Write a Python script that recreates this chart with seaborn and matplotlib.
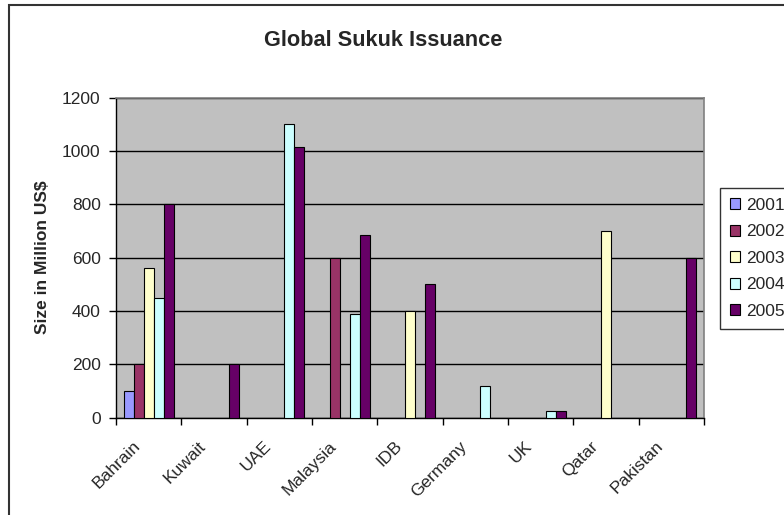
import numpy as np
import pandas as pd
import matplotlib
matplotlib.use("Agg")
import matplotlib.pyplot as plt
import matplotlib.transforms as mtransforms
from matplotlib.patches import Patch, Rectangle
import seaborn as sns

# values (million US$); nan = no issuance shown
countries = ["Bahrain", "Kuwait", "UAE", "Malaysia", "IDB", "Germany", "UK", "Qatar", "Pakistan"]
years = ["2001", "2002", "2003", "2004", "2005"]
v2001 = [100, np.nan, np.nan, np.nan, np.nan, np.nan, np.nan, np.nan, np.nan]
v2002 = [200, np.nan, np.nan, 600, np.nan, np.nan, np.nan, np.nan, np.nan]
v2003 = [560, np.nan, np.nan, np.nan, 400, np.nan, np.nan, 700, np.nan]
v2004 = [450, np.nan, 1100, 390, np.nan, 120, 25, np.nan, np.nan]
v2005 = [800, 200, 1015, 685, 500, np.nan, 25, np.nan, 600]
colors = ["#9999FF", "#993366", "#FFFFCC", "#CCFFFF", "#660066"]

series = [v2001, v2002, v2003, v2004, v2005]
df = pd.DataFrame(
    [(c, y, v) for y, vals in zip(years, series) for c, v in zip(countries, vals)],
    columns=["country", "year", "size"],
).dropna()

sns.set_style("white")
plt.rcParams["font.family"] = ["Liberation Sans", "DejaVu Sans"]

fig = plt.figure(figsize=(7.84, 5.15), dpi=100)
ax = fig.add_axes([116 / 784, 1 - 417.5 / 515, 588 / 784, 320 / 515])

palette = dict(zip(years, colors))
sns.barplot(data=df, x="country", y="size", hue="year", order=countries,
            hue_order=years, palette=palette, errorbar=None, width=0.77,
            gap=0, edgecolor="black", linewidth=0.8, saturation=1, ax=ax,
            legend=False, zorder=3)

ax.set_facecolor("#C0C0C0")
ax.set_ylim(0, 1200)
ax.set_xlim(-0.5, len(countries) - 0.5)
ax.set_yticks(range(0, 1201, 200))
ax.yaxis.grid(True, color="black", linewidth=1)
ax.set_axisbelow(True)
ax.tick_params(axis="y", left=True, length=5, width=1, color="black", labelsize=12.5, pad=6)
ax.set_ylabel("Size in Million US$", fontsize=12.5, fontweight="bold", labelpad=9)
ax.set_xlabel("")

ax.set_xticks(range(len(countries)))
ax.set_xticklabels(countries, rotation=45, ha="right", rotation_mode="anchor", fontsize=12.5)
ax.tick_params(axis="x", bottom=False, length=0, pad=15)
shift = mtransforms.ScaledTranslation(-16 / 100, 0, fig.dpi_scale_trans)
for lab in ax.get_xticklabels():
    lab.set_transform(lab.get_transform() + shift)
ax.set_xticks(np.arange(-0.5, len(countries), 1), minor=True)
ax.tick_params(axis="x", which="minor", bottom=True, length=5, width=1, color="black")

for side in ["left", "bottom"]:
    ax.spines[side].set_color("black")
    ax.spines[side].set_linewidth(1)
for side in ["top", "right"]:
    ax.spines[side].set_color("#808080")
    ax.spines[side].set_linewidth(1.2)

fig.text(383 / 784, 1 - 40 / 515, "Global Sukuk Issuance", fontsize=15.7,
         fontweight="bold", ha="center", va="center")

handles = [Patch(facecolor=c, edgecolor="black", linewidth=0.8, label=y)
           for y, c in zip(years, colors)]
fig.legend(handles=handles, loc="upper left", bbox_to_anchor=(720 / 784, 1 - 188 / 515),
           frameon=True, fancybox=False, edgecolor="black", fontsize=12.5,
           handlelength=0.6, handleheight=0.6, handletextpad=0.36,
           labelspacing=0.67, borderpad=0.55, borderaxespad=0)

fig.patches.append(Rectangle((9 / 784, -0.1), 1.2, 1.1 - 5 / 515, fill=False,
                             edgecolor="#333333", linewidth=1.5,
                             transform=fig.transFigure, figure=fig))

fig.savefig("out.png", dpi=100)
